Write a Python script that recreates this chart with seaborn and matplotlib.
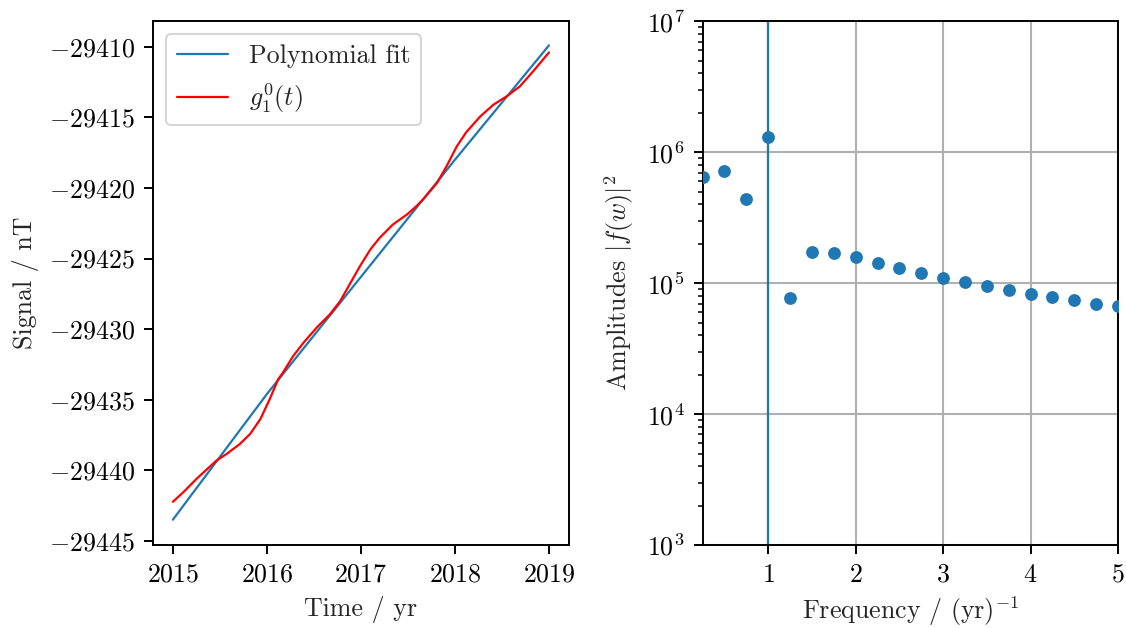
import numpy as np
import pandas as pd
import seaborn as sns
import matplotlib
matplotlib.use("Agg")
import matplotlib.pyplot as plt

# ---- data ----
fit_years = [2015.0, 2016.0, 2017.0, 2018.0, 2019.0]
fit_values = [-29443.5, -29434.6, -29426.3, -29418.0, -29409.9]

g_years = [2015.0, 2015.11, 2015.25, 2015.46, 2015.57, 2015.71, 2015.82, 2015.93, 2016.03,
           2016.12, 2016.17, 2016.28, 2016.39, 2016.53, 2016.67, 2016.78, 2016.88, 2016.99,
           2017.10, 2017.20, 2017.34, 2017.49, 2017.59, 2017.66, 2017.81, 2017.91, 2018.02,
           2018.12, 2018.27, 2018.41, 2018.55, 2018.69, 2018.83, 2019.0]
g_values = [-29442.23, -29441.56, -29440.62, -29439.33, -29438.85, -29438.15, -29437.44,
            -29436.38, -29434.96, -29433.55, -29433.08, -29431.90, -29430.96, -29429.89,
            -29428.95, -29428.01, -29426.83, -29425.54, -29424.36, -29423.53, -29422.59,
            -29421.88, -29421.29, -29420.82, -29419.64, -29418.47, -29417.05, -29416.05,
            -29414.93, -29414.10, -29413.51, -29412.81, -29411.75, -29410.40]

freqs = [0.25, 0.5, 0.75, 1.0, 1.25, 1.5, 1.75, 2.0, 2.25, 2.5, 2.75, 3.0, 3.25, 3.5,
         3.75, 4.0, 4.25, 4.5, 4.75, 5.0]
amps = [6.44e5, 7.16e5, 4.38e5, 1.32e6, 7.7e4, 1.73e5, 1.70e5, 1.58e5, 1.42e5, 1.30e5,
        1.19e5, 1.09e5, 1.02e5, 9.5e4, 8.85e4, 8.25e4, 7.8e4, 7.4e4, 7.0e4, 6.7e4]
peak_freq = 1.0

# ---- style ----
sns.set_style("ticks")
plt.rcParams.update({
    "font.family": "serif",
    "font.serif": ["cmr10"],
    "mathtext.fontset": "cm",
    "axes.formatter.use_mathtext": True,
    "axes.unicode_minus": True,
    "font.size": 18.7,
    "axes.edgecolor": "black",
    "axes.linewidth": 1.4,
    "axes.labelpad": 7.5,
    "xtick.color": "black",
    "ytick.color": "black",
    "xtick.direction": "out",
    "ytick.direction": "out",
    "xtick.major.size": 6.5,
    "ytick.major.size": 6.5,
    "xtick.major.width": 1.4,
    "ytick.major.width": 1.4,
    "xtick.minor.size": 3.7,
    "ytick.minor.size": 3.7,
    "xtick.minor.width": 1.1,
    "ytick.minor.width": 1.1,
    "xtick.major.pad": 6.5,
    "ytick.major.pad": 6.5,
    "axes.spines.top": True,
    "axes.spines.right": True,
})

fig, (ax1, ax2) = plt.subplots(1, 2, figsize=(11.26, 6.28), dpi=100)
fig.subplots_adjust(left=0.136, right=0.993, top=0.966, bottom=0.132, wspace=0.322)

df_fit = pd.DataFrame({"t": fit_years, "v": fit_values})
df_g = pd.DataFrame({"t": g_years, "v": g_values})
sns.lineplot(data=df_fit, x="t", y="v", ax=ax1, color="#1f77b4", lw=1.6,
             label="Polynomial fit")
sns.lineplot(data=df_g, x="t", y="v", ax=ax1, color="red", lw=1.6,
             label=r"$g_1^0(t)$")
ax1.set_xticks([2015, 2016, 2017, 2018, 2019])
ax1.set_yticks([-29410, -29415, -29420, -29425, -29430, -29435, -29440, -29445])
ax1.set_ylim(-29445.3, -29408.2)
ax1.set_xlim(2014.79, 2019.21)
ax1.set_xlabel("Time / yr", labelpad=6.5)
ax1.set_ylabel("Signal / nT")
ax1.ticklabel_format(axis="y", useOffset=False, style="plain")
leg = ax1.legend(loc="upper left", fontsize=18.7, handlelength=2.0, fancybox=True,
                 framealpha=0.8, edgecolor="#cccccc")
leg.get_frame().set_linewidth(1.5)

df_a = pd.DataFrame({"f": freqs, "a": amps})
ax2.axvline(peak_freq, color="#1f77b4", lw=1.6)
sns.scatterplot(data=df_a, x="f", y="a", ax=ax2, color="#1f77b4", s=85,
                linewidth=0, clip_on=True, zorder=3)
ax2.set_yscale("log")
ax2.set_ylim(1e3, 1e7)
ax2.set_xlim(0.25, 5)
ax2.set_xticks([1, 2, 3, 4, 5])
ax2.grid(True, which="major", color="#b0b0b0", lw=1.5)
ax2.set_axisbelow(True)
ax2.set_xlabel(r"Frequency / (yr)$^{-1}$", labelpad=5.5)
ax2.set_ylabel(r"Amplitudes $|f(w)|^2$")

fig.savefig("out.png", dpi=100)
